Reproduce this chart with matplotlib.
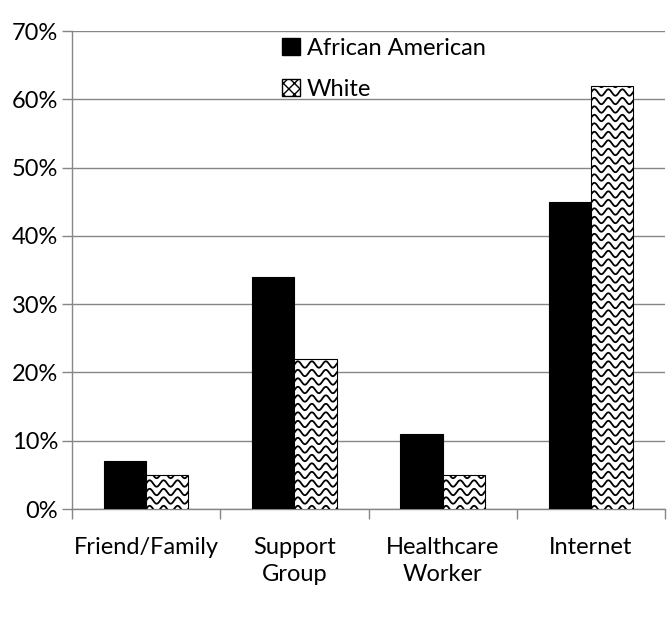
import numpy as np
import matplotlib
matplotlib.use("Agg")
import matplotlib.pyplot as plt
from matplotlib.patches import Patch
from matplotlib.transforms import IdentityTransform

categories = ["Friend/Family", "Support\nGroup", "Healthcare\nWorker", "Internet"]
african_american = [7, 34, 11, 45]
white = [5, 22, 5, 62]
yticks = [0, 10, 20, 30, 40, 50, 60, 70]

plt.rcParams['font.family'] = ['Lato', 'DejaVu Sans']
fig = plt.figure(figsize=(6.72, 6.2), dpi=100)
ax = fig.add_axes([72/672, 1-509/620, (665-72)/672, (509-31)/620])

x = np.arange(len(categories))
w = 0.285
grey = '#868686'
b1 = ax.bar(x - w/2, african_american, w, color='black', edgecolor='black', linewidth=0.8, zorder=3)
b2 = ax.bar(x + w/2, white, w, color='white', edgecolor='black', linewidth=0.8, zorder=3)

ax.set_xlim(-0.5, len(categories) - 0.5)
ax.set_ylim(0, 70)
ax.set_yticks(yticks)
ax.set_yticklabels([f"{v}%" for v in yticks])
ax.set_xticks(x)
ax.set_xticklabels(categories, linespacing=1.35)
ax.set_xticks(np.arange(len(categories) + 1) - 0.5, minor=True)
ax.tick_params(axis='x', which='major', length=0, pad=20, labelsize=17)
ax.tick_params(axis='x', which='minor', length=7, color=grey, width=1)
ax.tick_params(axis='y', length=7, color=grey, width=1, labelsize=17, pad=3)
ax.yaxis.grid(True, color=grey, linewidth=1)
ax.set_axisbelow(True)
for s in ['top', 'right']:
    ax.spines[s].set_visible(False)
for s in ['left', 'bottom']:
    ax.spines[s].set_color(grey)
    ax.spines[s].set_linewidth(1)

# wavy pattern inside white bars (pixel space)
fig.canvas.draw()
period, amp, spacing = 14.0, 3.2, 8.5
for bar in b2:
    bb = bar.get_window_extent()
    xs = np.linspace(bb.x0 - 5, bb.x1 + 5, 200)
    y = bb.y0 - spacing
    while y < bb.y1 + spacing:
        ys = y + amp * np.sin(2 * np.pi * (xs - bb.x0) / period)
        ln = ax.plot(xs, ys, color='black', linewidth=1.3, transform=IdentityTransform(), zorder=4)[0]
        ln.set_clip_path(bar)
        y += spacing

handles = [Patch(facecolor='black', edgecolor='black'),
           Patch(facecolor='white', edgecolor='black', hatch='xxx')]
leg = ax.legend(handles, ["African American", "White"], loc='upper left',
                bbox_to_anchor=(0.318, 1.03), frameon=False, fontsize=17,
                handlelength=0.75, handleheight=0.75, handletextpad=0.3, labelspacing=0.85)

fig.savefig("out.png", dpi=100)
